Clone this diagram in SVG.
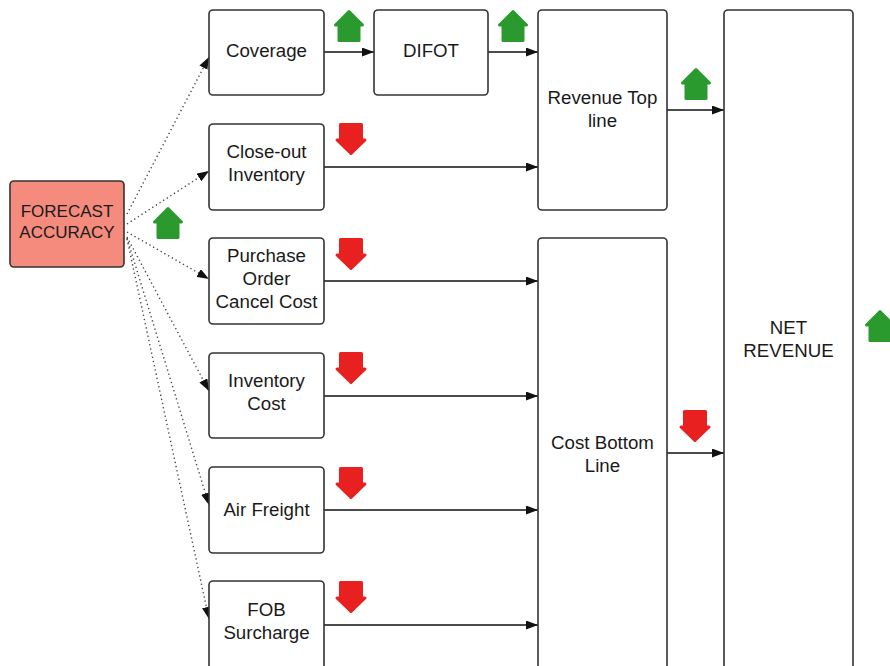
<svg xmlns="http://www.w3.org/2000/svg" width="890" height="666" viewBox="0 0 890 666">
<style>
.box{fill:#fff;stroke:#333;stroke-width:1.6}
.fc{fill:#f58b7d;stroke:#333;stroke-width:1.6}
.t{font-family:"Liberation Sans",Arial,sans-serif;font-size:18.7px;fill:#1a1a1a;text-anchor:middle}
.tf{font-size:17px}
.c{stroke:#111;stroke-width:1.6;fill:none}
.d{stroke:#444;stroke-width:1.4;fill:none;stroke-dasharray:1.3 3}
.up{fill:#2b9a2e;stroke:#2b9a2e;stroke-width:3;stroke-linejoin:round}
.dn{fill:#e8201f;stroke:#e8201f;stroke-width:3;stroke-linejoin:round}
</style>
<defs>
<marker id="ah" viewBox="0 0 12 9" refX="12" refY="4.5" markerWidth="12" markerHeight="9" markerUnits="userSpaceOnUse" orient="auto">
<path d="M0,0 L12,4.5 L0,9 Z" fill="#111"/>
</marker>
<path id="upA" d="M0,-14.5 L13.5,-1 L10,-1 L10,14.5 L-10,14.5 L-10,-1 L-13.5,-1 Z"/>
<path id="dnA" d="M0,14.5 L14,1 L10.5,1 L10.5,-14.5 L-10.5,-14.5 L-10.5,1 L-14,1 Z"/>
</defs>
<rect width="890" height="666" fill="#fff"/>

<g id="connectors">
<line class="c" x1="324" y1="52" x2="374" y2="52" marker-end="url(#ah)"/>
<line class="c" x1="488" y1="52" x2="538" y2="52" marker-end="url(#ah)"/>
<line class="c" x1="324" y1="167" x2="538" y2="167" marker-end="url(#ah)"/>
<line class="c" x1="667" y1="110" x2="724" y2="110" marker-end="url(#ah)"/>
<line class="c" x1="324" y1="281" x2="538" y2="281" marker-end="url(#ah)"/>
<line class="c" x1="324" y1="396" x2="538" y2="396" marker-end="url(#ah)"/>
<line class="c" x1="324" y1="510" x2="538" y2="510" marker-end="url(#ah)"/>
<line class="c" x1="324" y1="625" x2="538" y2="625" marker-end="url(#ah)"/>
<line class="c" x1="667" y1="453" x2="724" y2="453" marker-end="url(#ah)"/>
<line class="d" x1="127" y1="214" x2="209" y2="57" marker-end="url(#ah)"/>
<line class="d" x1="127" y1="224" x2="209" y2="171" marker-end="url(#ah)"/>
<line class="d" x1="127" y1="232" x2="209" y2="279" marker-end="url(#ah)"/>
<line class="d" x1="127" y1="237" x2="209" y2="391" marker-end="url(#ah)"/>
<line class="d" x1="127" y1="238" x2="209" y2="505" marker-end="url(#ah)"/>
<line class="d" x1="127" y1="239" x2="209" y2="619" marker-end="url(#ah)"/>
</g>

<g id="forecast"><rect class="fc" x="10" y="181" width="114" height="86" rx="4"/><text class="t tf" x="67" y="217">FORECAST</text><text class="t tf" x="67" y="238">ACCURACY</text></g>
<g id="coverage"><rect class="box" x="209" y="10" width="115" height="85" rx="4"/><text class="t" x="266.5" y="57">Coverage</text></g>
<g id="difot"><rect class="box" x="374" y="10" width="114" height="85" rx="4"/><text class="t" x="431" y="57">DIFOT</text></g>
<g id="closeout"><rect class="box" x="209" y="124" width="115" height="86" rx="4"/><text class="t" x="266.5" y="158">Close-out</text><text class="t" x="266.5" y="181">Inventory</text></g>
<g id="purchase"><rect class="box" x="209" y="238" width="115" height="86" rx="4"/><text class="t" x="266.5" y="262">Purchase</text><text class="t" x="266.5" y="285">Order</text><text class="t" x="266.5" y="308">Cancel Cost</text></g>
<g id="invcost"><rect class="box" x="209" y="353" width="115" height="85" rx="4"/><text class="t" x="266.5" y="387">Inventory</text><text class="t" x="266.5" y="410">Cost</text></g>
<g id="airfreight"><rect class="box" x="209" y="467" width="115" height="86" rx="4"/><text class="t" x="266.5" y="516">Air Freight</text></g>
<g id="fob"><rect class="box" x="209" y="581" width="115" height="95" rx="4"/><text class="t" x="266.5" y="616">FOB</text><text class="t" x="266.5" y="639">Surcharge</text></g>
<g id="revenue"><rect class="box" x="538" y="10" width="129" height="200" rx="4"/><text class="t" x="602.5" y="104">Revenue Top</text><text class="t" x="602.5" y="127">line</text></g>
<g id="cost"><rect class="box" x="538" y="238" width="129" height="440" rx="4"/><text class="t" x="602.5" y="449">Cost Bottom</text><text class="t" x="602.5" y="472">Line</text></g>
<g id="netrevenue"><rect class="box" x="724" y="10" width="129" height="670" rx="4"/><text class="t" x="788.5" y="334">NET</text><text class="t" x="788.5" y="357">REVENUE</text></g>

<g id="indicators">
<use href="#upA" class="up" x="349" y="26"/>
<use href="#upA" class="up" x="513" y="26"/>
<use href="#upA" class="up" x="696" y="84"/>
<use href="#upA" class="up" x="168" y="223"/>
<use href="#upA" class="up" x="880" y="326"/>
<use href="#dnA" class="dn" x="351" y="139"/>
<use href="#dnA" class="dn" x="351" y="254"/>
<use href="#dnA" class="dn" x="351" y="368"/>
<use href="#dnA" class="dn" x="351" y="483"/>
<use href="#dnA" class="dn" x="351" y="597"/>
<use href="#dnA" class="dn" x="695" y="426"/>
</g>
</svg>
